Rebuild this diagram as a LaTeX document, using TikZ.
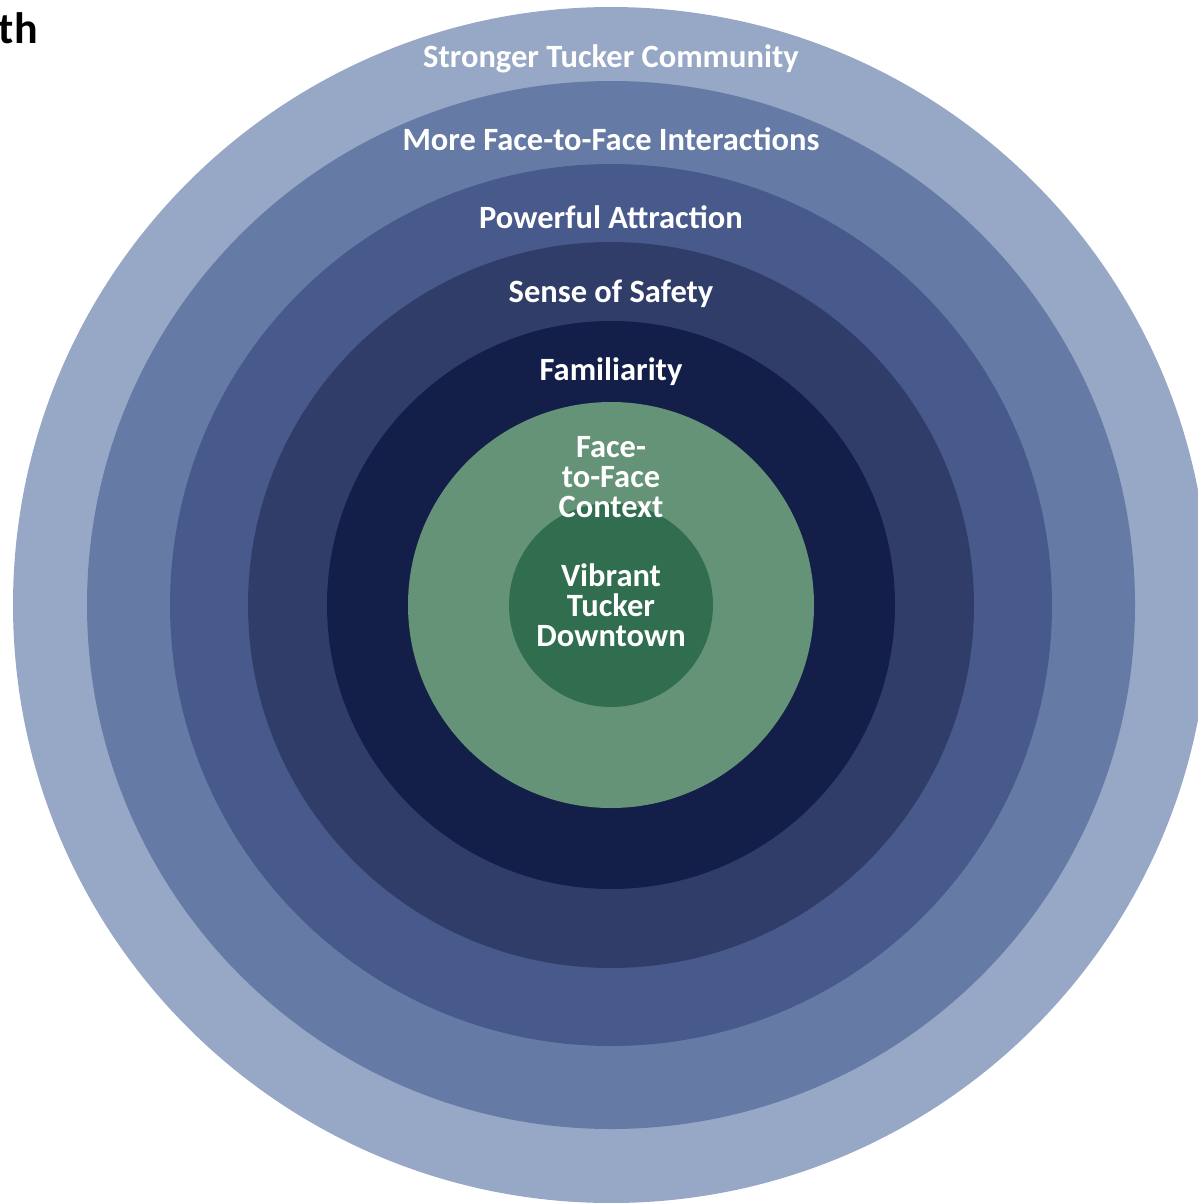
\documentclass[tikz,border=0pt]{standalone}
\usepackage{fontspec}
\setmainfont{Carlito}
\definecolor{ringA}{HTML}{97A8C6}
\definecolor{ringB}{HTML}{657BA5}
\definecolor{ringC}{HTML}{475A8B}
\definecolor{ringD}{HTML}{313D69}
\definecolor{ringE}{HTML}{131F48}
\definecolor{ringF}{HTML}{649377}
\definecolor{coreG}{HTML}{316E50}
\begin{document}
\begin{tikzpicture}[x=1pt,y=-1pt,
  ring/.style={circle,draw=none,inner sep=0pt,minimum size=#1},
  lbl/.style={text=white,font=\bfseries\fontsize{32.5}{30}\selectfont,align=center,inner sep=0pt}]
  \useasboundingbox (0,0) rectangle (1198,1203);
  \coordinate (c) at (611,605);
  % concentric rings, outermost first
  \node[ring=1196pt,fill=ringA] (r1) at (c) {};
  \node[ring=1048pt,fill=ringB] (r2) at (c) {};
  \node[ring=882pt,fill=ringC] (r3) at (c) {};
  \node[ring=726pt,fill=ringD] (r4) at (c) {};
  \node[ring=568pt,fill=ringE] (r5) at (c) {};
  \node[ring=406pt,fill=ringF] (r6) at (c) {};
  \node[ring=204pt,fill=coreG] (r7) at (c) {};
  % ring labels
  \node[lbl] (l1) at (611,59) {Stronger Tucker Community};
  \node[lbl] (l2) at (611,139) {More Face-to-Face Interactions};
  \node[lbl] (l3) at (611,217) {Powerful Attraction};
  \node[lbl] (l4) at (611,294) {Sense of Safety};
  \node[lbl] (l5) at (611,372) {Familiarity};
  \node[lbl] (l6) at (611,477) {Face-\\to-Face\\Context};
  \node[lbl] (l7) at (611,605) {Vibrant\\Tucker\\Downtown};
  % title fragment
  \node[anchor=base east,inner sep=0pt,font=\bfseries\fontsize{44}{44}\selectfont] (t) at (38,43) {th};
\end{tikzpicture}
\end{document}
